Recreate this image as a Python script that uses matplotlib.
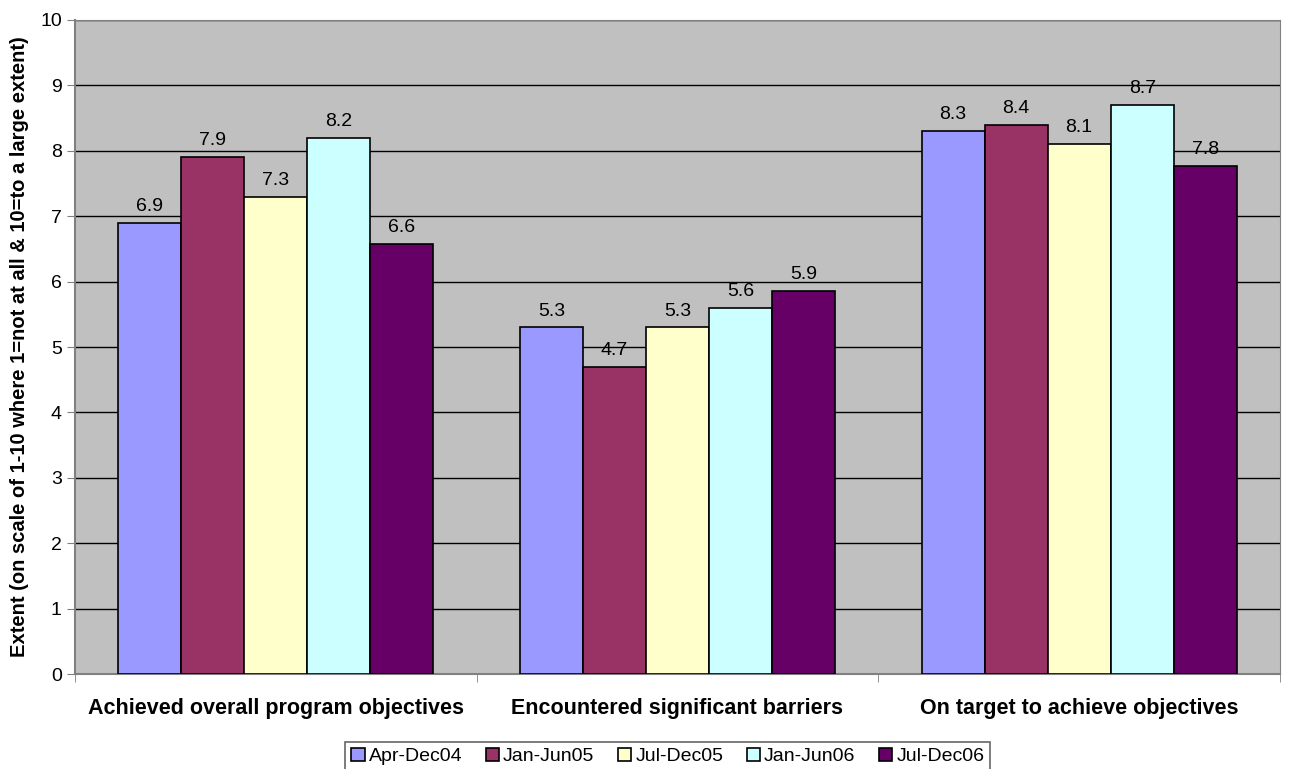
import numpy as np
import matplotlib.pyplot as plt

plt.rcParams['font.family'] = ['Liberation Sans', 'DejaVu Sans']

categories = ['Achieved overall program objectives',
              'Encountered significant barriers',
              'On target to achieve objectives']
periods = ['Apr-Dec04', 'Jan-Jun05', 'Jul-Dec05', 'Jan-Jun06', 'Jul-Dec06']
apr_dec04 = [6.9, 5.3, 8.3]
jan_jun05 = [7.9, 4.7, 8.4]
jul_dec05 = [7.3, 5.3, 8.1]
jan_jun06 = [8.2, 5.6, 8.7]
jul_dec06 = [6.57, 5.86, 7.77]
colors = ['#9999FF', '#993366', '#FFFFCC', '#CCFFFF', '#660066']

series = [apr_dec04, jan_jun05, jul_dec05, jan_jun06, jul_dec06]

fig = plt.figure(figsize=(12.89, 7.69), dpi=100)
ax = fig.add_axes([0.0582, 0.1235, 0.9348, 0.8505])
ax.set_facecolor('#C0C0C0')

x = np.arange(len(categories))
w = 0.157
for i, (vals, name, c) in enumerate(zip(series, periods, colors)):
    pos = x + (i - 2) * w
    bars = ax.bar(pos, vals, w, color=c, edgecolor='black', linewidth=1.2,
                  label=name, zorder=3)
    for b, v in zip(bars, vals):
        ax.text(b.get_x() + b.get_width() / 2, v + 0.12, '%.1f' % v,
                ha='center', va='bottom', fontsize=14, zorder=4)

ax.set_xlim(-0.5, 2.5)
ax.set_ylim(0, 10)
ax.set_yticks(range(0, 11))
ax.yaxis.grid(True, color='black', linewidth=1)
ax.set_axisbelow(True)
ax.set_xticks(x)
ax.set_xticklabels(categories, fontsize=15.5, fontweight='bold')
ax.set_xticks([-0.5, 0.5, 1.5, 2.5], minor=True)
ax.tick_params(axis='x', which='major', length=0, pad=17)
ax.tick_params(axis='x', which='minor', length=6, color='#808080')
ax.tick_params(axis='y', labelsize=14, length=6, color='#808080')
for side in ['top', 'right']:
    ax.spines[side].set_color('#808080')
for side in ['left', 'bottom']:
    ax.spines[side].set_color('#808080')
    ax.spines[side].set_linewidth(1.5)

ax.set_ylabel('Extent (on scale of 1-10 where 1=not at all & 10=to a large extent)',
              fontsize=14.5, fontweight='bold', labelpad=8)

leg = fig.legend(loc='upper center', bbox_to_anchor=(0.518, 0.0351), ncol=5,
                 fontsize=14, frameon=True, fancybox=False, edgecolor='#404040',
                 handlelength=0.7, handleheight=0.7, handletextpad=0.2,
                 columnspacing=1.2, borderpad=0.3, borderaxespad=0)
leg.get_frame().set_linewidth(1.2)

fig.savefig('out.png', dpi=100)
